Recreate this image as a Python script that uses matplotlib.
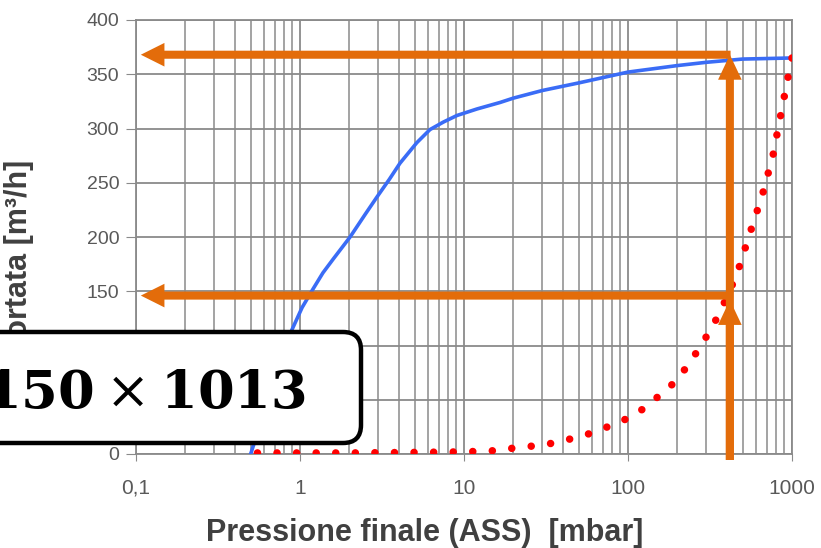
import matplotlib
matplotlib.use("Agg")
import matplotlib.pyplot as plt
from matplotlib.patches import FancyBboxPatch
from matplotlib.transforms import IdentityTransform
from matplotlib.ticker import FixedLocator, LogLocator, NullFormatter

plt.rcParams["mathtext.fontset"] = "dejavuserif"

# curva della pompa (portata in funzione della pressione)
blue_p = [0.5, 0.6, 0.7, 0.8, 0.89, 1.03, 1.2, 1.38, 1.6, 2.02, 2.5, 2.95, 3.5,
          4.07, 5.16, 6.2, 7.5, 9.06, 12, 16.6, 20, 30, 50, 100, 200, 300, 500, 1000]
blue_q = [0, 36, 66, 93, 114, 135, 152, 167, 180, 200, 221, 237, 253,
          268, 287, 299, 306, 312, 318, 324, 328, 335, 342, 352, 358, 361, 364, 365]

# curva a punti rossa
red_p = [0.55, 1, 2, 5, 10, 15, 19, 25, 29, 38, 50, 59, 78, 100, 122, 150, 168,
         202, 222, 260, 300, 360, 460, 550, 660, 765, 850, 945, 1000]
red_q = [1, 1, 1, 1.5, 2, 3, 5, 7, 8, 11, 16, 19, 26, 33, 41, 52, 57,
         70, 78, 93, 108, 129, 165, 202, 239, 275, 311, 347, 365]

# frecce arancioni: (pressione, portata)
arrow_x = 418
arrow_tip_x = 0.107
arrow_levels = [368, 146]
arrow_up_tips = [368, 142]
arrow_base = -5.5

xticks = [0.1, 1, 10, 100, 1000]
xtick_labels = ["0,1", "1", "10", "100", "1000"]
yticks = list(range(0, 401, 50))

orange = "#E36C0A"

fig = plt.figure(figsize=(8.21, 5.48), dpi=100)
ax = fig.add_axes([136 / 821, 94 / 548, 656 / 821, 434 / 548])

ax.set_xscale("log")
ax.set_xlim(0.1, 1000)
ax.set_ylim(0, 400)

ax.plot(blue_p, blue_q, color="#3A6CF6", lw=2.6, zorder=3)
ax.plot(red_p, red_q, color="#FF0000", lw=5.4, linestyle=(0, (0.01, 2.6)),
        dash_capstyle="round", zorder=3)

for lvl in arrow_levels:
    ax.annotate("", xy=(arrow_tip_x, lvl), xytext=(arrow_x * 1.01, lvl),
                arrowprops=dict(width=5.8, headwidth=17, headlength=17,
                                shrink=0, color=orange, lw=0),
                annotation_clip=False, zorder=5)
for tip in arrow_up_tips:
    ax.annotate("", xy=(arrow_x, tip), xytext=(arrow_x, arrow_base),
                arrowprops=dict(width=5.8, headwidth=17, headlength=18,
                                shrink=0, color=orange, lw=0),
                annotation_clip=False, zorder=5)

# griglia
ax.xaxis.set_major_locator(FixedLocator(xticks))
ax.set_xticklabels(xtick_labels)
ax.xaxis.set_minor_locator(LogLocator(base=10, subs=range(2, 10)))
ax.xaxis.set_minor_formatter(NullFormatter())
ax.set_yticks(yticks)
ax.grid(True, which="major", axis="both", color="#8a8a8a", lw=1.3)
ax.grid(True, which="minor", axis="x", color="#8a8a8a", lw=1.1)
ax.set_axisbelow(True)

ax.tick_params(axis="x", which="major", length=5, pad=13, colors="#8a8a8a",
               labelcolor="#595959", labelsize=15)
ax.tick_params(axis="x", which="minor", length=0)
ax.tick_params(axis="y", length=7, pad=5, colors="#8a8a8a",
               labelcolor="#595959", labelsize=14)
for lab in ax.get_xticklabels() + ax.get_yticklabels():
    lab.set_family("Liberation Sans")
for s in ax.spines.values():
    s.set_color("#8a8a8a")
    s.set_linewidth(1.3)

ax.set_xlabel("Pressione finale (ASS)  [mbar]", fontsize=22, fontweight="bold",
              color="#404040", family="Liberation Sans")
ax.xaxis.set_label_coords(0.44, -0.148)
ax.set_ylabel("Portata [m³/h]", fontsize=22, fontweight="bold",
              color="#404040", family="Liberation Sans")
ax.yaxis.set_label_coords(-0.155, 0.449)

# riquadro con il calcolo
ident = IdentityTransform()
box = FancyBboxPatch((-40, 105), 401, 111,
                     boxstyle="round,pad=0,rounding_size=18",
                     transform=ident, facecolor="white", edgecolor="black",
                     lw=3.2, zorder=10)
fig.add_artist(box)
fig.text(306, 140, r"$\mathbf{150}\:\times\:\mathbf{1013}$", transform=ident,
         ha="right", va="baseline", fontsize=38, zorder=11)

fig.savefig("out.png", dpi=100)
